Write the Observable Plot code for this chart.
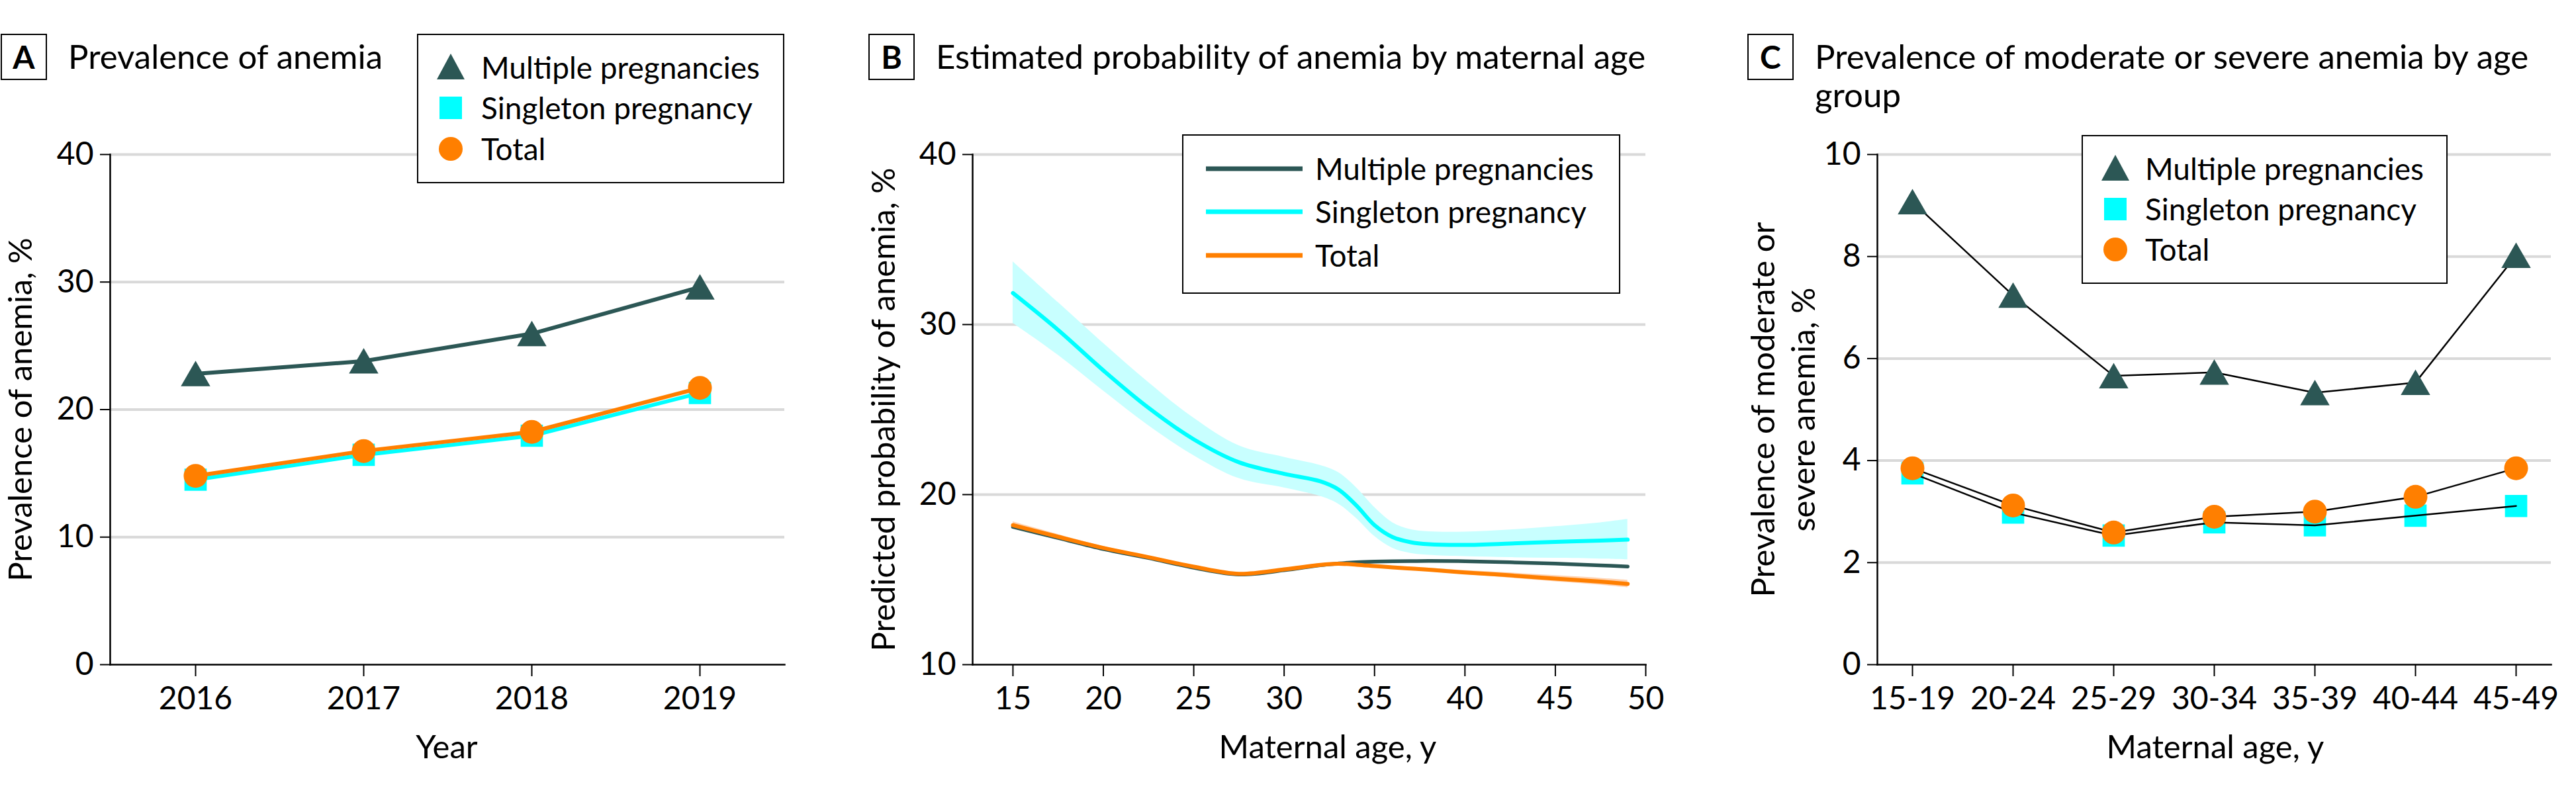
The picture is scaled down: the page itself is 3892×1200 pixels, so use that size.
<!DOCTYPE html>
<html>
<head>
<meta charset="utf-8">
<script src="https://cdn.jsdelivr.net/npm/d3@7"></script>
<script src="https://cdn.jsdelivr.net/npm/@observablehq/plot@0.6"></script>
<style>
  html, body { margin: 0; padding: 0; background: #fff; }
  #page { position: relative; width: 3892px; height: 1200px; overflow: hidden; font-family: Lato, "Noto Sans", sans-serif; color: #000; }
  #page svg.plotsvg { position: absolute; top: 0; }
</style>
</head>
<body>
<div id="page"></div>
<script>
// ---------- Data ----------
// Panel A: prevalence of anemia by year
const years = [2016, 2017, 2018, 2019];
const prevMultiple  = [22.8, 23.8, 25.95, 29.6];
const prevSingleton = [14.5, 16.45, 17.95, 21.3];
const prevTotal     = [14.8, 16.75, 18.25, 21.7];

// Panel B: estimated probability of anemia by maternal age
const ages          = [15, 17.5, 20, 22.5, 25, 27.5, 30, 32, 33, 34, 35, 36, 37, 38, 40, 42.5, 45, 47.5, 49];
const probSingleton = [31.85, 29.68, 27.3, 25.1, 23.25, 21.9, 21.22, 20.78, 20.3, 19.35, 18.2, 17.5, 17.2, 17.08, 17.04, 17.12, 17.22, 17.3, 17.35];
const probSingLo    = [30.08, 28.2, 26.1, 24.06, 22.3, 20.95, 20.4, 19.9, 19.45, 18.6, 17.55, 16.85, 16.55, 16.44, 16.36, 16.3, 16.26, 16.22, 16.18];
const probSingHi    = [33.7, 31.3, 28.9, 26.6, 24.5, 22.88, 22.2, 21.72, 21.3, 20.4, 19.25, 18.35, 17.95, 17.82, 17.8, 17.93, 18.12, 18.35, 18.55];
const probMultiple  = [18.1, 17.45, 16.8, 16.27, 15.7, 15.3, 15.55, 15.85, 15.95, 16.02, 16.06, 16.08, 16.09, 16.1, 16.08, 16.02, 15.94, 15.84, 15.77];
const probTotal     = [18.2, 17.52, 16.86, 16.32, 15.76, 15.34, 15.6, 15.87, 15.93, 15.88, 15.8, 15.72, 15.65, 15.58, 15.42, 15.25, 15.06, 14.88, 14.75];
const probTotalLo   = [18.0, 17.38, 16.76, 16.24, 15.69, 15.27, 15.53, 15.8, 15.86, 15.81, 15.72, 15.64, 15.56, 15.48, 15.3, 15.1, 14.88, 14.68, 14.53];
const probTotalHi   = [18.4, 17.66, 16.96, 16.4, 15.83, 15.41, 15.67, 15.94, 16.0, 15.95, 15.88, 15.8, 15.74, 15.68, 15.54, 15.4, 15.24, 15.08, 14.97];

// Panel C: prevalence of moderate or severe anemia by age group
const ageGroups       = ["15-19", "20-24", "25-29", "30-34", "35-39", "40-44", "45-49"];
const modSevMultiple  = [9.07, 7.24, 5.66, 5.73, 5.33, 5.53, 8.02];
const modSevSingleton = [3.75, 2.98, 2.53, 2.79, 2.73, 2.92, 3.11];
const modSevTotal     = [3.85, 3.12, 2.59, 2.9, 3.0, 3.29, 3.85];

// Labels
const seriesNames = ["Multiple pregnancies", "Singleton pregnancy", "Total"];
const yTicksA = [0, 10, 20, 30, 40];
const yTicksB = [10, 20, 30, 40];
const xTicksB = [15, 20, 25, 30, 35, 40, 45, 50];
const yTicksC = [0, 2, 4, 6, 8, 10];

// ---------- Style ----------
const DARK = "#2c5755", CYAN = "#00ffff", ORANGE = "#ff7f00", BAND = "#c8ffff", TBAND = "#ffd2b0", GRID = "#d9d9d9";
const FONT = "Lato, 'Noto Sans', sans-serif";
const baseStyle = { fontFamily: FONT, fontSize: "48px", background: "transparent", overflow: "visible", color: "#000" };
const fmt = d => String(d);

const page = document.getElementById("page");
function el(tag, css, text) {
  const e = document.createElement(tag);
  e.style.cssText = css;
  if (text != null) e.textContent = text;
  page.appendChild(e);
  return e;
}
function place(svg, left) {
  svg.classList.add("plotsvg");
  svg.style.position = "absolute";
  svg.style.left = left + "px";
  svg.style.top = "0px";
  page.appendChild(svg);
}

// ---------- Panel A ----------
const tableA = years.map((year, i) => ({ year, multiple: prevMultiple[i], singleton: prevSingleton[i], total: prevTotal[i] }));
const plotA = Plot.plot({
  width: 1290, height: 1200,
  marginLeft: 166, marginRight: 105, marginTop: 233, marginBottom: 196,
  style: baseStyle,
  x: { type: "point", domain: years, padding: 0.5 },
  y: { domain: [0, 40] },
  marks: [
    Plot.gridY(yTicksA.slice(1), { stroke: GRID, strokeOpacity: 1, strokeWidth: 4 }),
    Plot.frame({ anchor: "left", strokeWidth: 2.5 }),
    Plot.frame({ anchor: "bottom", strokeWidth: 2.5 }),
    Plot.axisY(yTicksA, { tickSize: 15, tickPadding: 10, strokeWidth: 2, tickFormat: fmt, label: null }),
    Plot.axisX(years, { tickSize: 18, tickPadding: 15, strokeWidth: 2, tickFormat: fmt, label: null }),
    Plot.line(tableA, { x: "year", y: "singleton", stroke: CYAN, strokeWidth: 6 }),
    Plot.dot(tableA, { x: "year", y: "singleton", symbol: "square", fill: CYAN, r: 19 }),
    Plot.line(tableA, { x: "year", y: "total", stroke: ORANGE, strokeWidth: 6 }),
    Plot.dot(tableA, { x: "year", y: "total", symbol: "circle", fill: ORANGE, r: 18 }),
    Plot.line(tableA, { x: "year", y: "multiple", stroke: DARK, strokeWidth: 6 }),
    Plot.dot(tableA, { x: "year", y: "multiple", symbol: "triangle", fill: DARK, r: 16.5, dy: 6 })
  ]
});
place(plotA, 0);

// ---------- Panel B ----------
const tableB = ages.map((age, i) => ({
  age, singleton: probSingleton[i], sLo: probSingLo[i], sHi: probSingHi[i],
  multiple: probMultiple[i], total: probTotal[i], tLo: probTotalLo[i], tHi: probTotalHi[i]
}));
const plotB = Plot.plot({
  width: 1300, height: 1200,
  marginLeft: 179, marginRight: 104, marginTop: 233, marginBottom: 196,
  style: baseStyle,
  x: { domain: [12.77, 50] },
  y: { domain: [10, 40] },
  marks: [
    Plot.gridY(yTicksB.slice(1), { stroke: GRID, strokeOpacity: 1, strokeWidth: 4 }),
    Plot.frame({ anchor: "left", strokeWidth: 2.5 }),
    Plot.frame({ anchor: "bottom", strokeWidth: 2.5 }),
    Plot.axisY(yTicksB, { tickSize: 15, tickPadding: 10, strokeWidth: 2, tickFormat: fmt, label: null }),
    Plot.axisX(xTicksB, { tickSize: 18, tickPadding: 15, strokeWidth: 2, tickFormat: fmt, label: null }),
    Plot.areaY(tableB, { x: "age", y1: "sLo", y2: "sHi", fill: BAND, curve: "catmull-rom" }),
    Plot.areaY(tableB, { x: "age", y1: "tLo", y2: "tHi", fill: TBAND, curve: "catmull-rom" }),
    Plot.line(tableB, { x: "age", y: "multiple", stroke: DARK, strokeWidth: 5.5, curve: "catmull-rom" }),
    Plot.line(tableB, { x: "age", y: "singleton", stroke: CYAN, strokeWidth: 6, curve: "catmull-rom" }),
    Plot.line(tableB, { x: "age", y: "total", stroke: ORANGE, strokeWidth: 6, curve: "catmull-rom" })
  ]
});
place(plotB, 1290);

// ---------- Panel C ----------
const tableC = ageGroups.map((g, i) => ({ g, multiple: modSevMultiple[i], singleton: modSevSingleton[i], total: modSevTotal[i] }));
const plotC = Plot.plot({
  width: 1302, height: 1200,
  marginLeft: 246, marginRight: 38, marginTop: 233, marginBottom: 196,
  style: baseStyle,
  x: { type: "point", domain: ageGroups, padding: 0.34 },
  y: { domain: [0, 10] },
  marks: [
    Plot.gridY(yTicksC.slice(1), { stroke: GRID, strokeOpacity: 1, strokeWidth: 4 }),
    Plot.frame({ anchor: "left", strokeWidth: 2.5 }),
    Plot.frame({ anchor: "bottom", strokeWidth: 2.5 }),
    Plot.axisY(yTicksC, { tickSize: 15, tickPadding: 10, strokeWidth: 2, tickFormat: fmt, label: null }),
    Plot.axisX(ageGroups, { tickSize: 18, tickPadding: 15, strokeWidth: 2, label: null }),
    Plot.dot(tableC, { x: "g", y: "singleton", symbol: "square", fill: CYAN, r: 19 }),
    Plot.line(tableC, { x: "g", y: "singleton", stroke: "#000", strokeWidth: 2.5 }),
    Plot.line(tableC, { x: "g", y: "total", stroke: "#000", strokeWidth: 2.5 }),
    Plot.line(tableC, { x: "g", y: "multiple", stroke: "#000", strokeWidth: 2.5 }),
    Plot.dot(tableC, { x: "g", y: "total", symbol: "circle", fill: ORANGE, r: 18 }),
    Plot.dot(tableC, { x: "g", y: "multiple", symbol: "triangle", fill: DARK, r: 16.5, dy: 6 })
  ]
});
place(plotC, 2590);

// ---------- Titles ----------
const tagCss = "position:absolute;top:51px;width:66px;height:66px;border:2px solid #000;font-weight:bold;font-size:48px;line-height:66px;text-align:center;background:#fff;font-family:" + FONT + ";";
const titleCss = "position:absolute;font-size:51px;line-height:58px;white-space:nowrap;font-family:" + FONT + ";";
el("div", tagCss + "left:1px;", "A");
el("div", titleCss + "left:103px;top:56px;", "Prevalence of anemia");
el("div", tagCss + "left:1312px;", "B");
el("div", titleCss + "left:1414px;top:56px;", "Estimated probability of anemia by maternal age");
el("div", tagCss + "left:2640px;", "C");
const tC = el("div", titleCss + "left:2742px;top:56px;");
tC.innerHTML = "Prevalence of moderate or severe anemia by age<br>group";

// ---------- Axis labels ----------
const xlabCss = "position:absolute;top:1097px;font-size:49px;line-height:60px;white-space:nowrap;transform:translateX(-50%);font-family:" + FONT + ";";
el("div", xlabCss + "left:675px;", "Year");
el("div", xlabCss + "left:2006px;", "Maternal age, y");
el("div", xlabCss + "left:3347px;", "Maternal age, y");
const ylabCss = "position:absolute;top:619px;font-size:49px;white-space:nowrap;text-align:center;transform:translate(-50%,-50%) rotate(-90deg);font-family:" + FONT + ";";
el("div", ylabCss + "left:29px;line-height:50px;", "Prevalence of anemia, %");
el("div", ylabCss + "left:1333px;line-height:50px;", "Predicted probability of anemia, %");
const yC = el("div", ylabCss + "left:2693px;line-height:61px;");
yC.innerHTML = "Prevalence of moderate or<br>severe anemia, %";

// ---------- Legends ----------
const symbols = {
  triangle: (c) => `<svg width="46" height="46" viewBox="-23 -23 46 46" style="position:absolute;left:-23px;top:-23px;overflow:visible"><polygon points="0,-21 21,18 -21,18" fill="${c}"/></svg>`,
  square: (c) => `<svg width="46" height="46" viewBox="-23 -23 46 46" style="position:absolute;left:-23px;top:-23px;overflow:visible"><rect x="-17" y="-17" width="34" height="34" fill="${c}"/></svg>`,
  circle: (c) => `<svg width="46" height="46" viewBox="-23 -23 46 46" style="position:absolute;left:-23px;top:-23px;overflow:visible"><circle r="18" fill="${c}"/></svg>`,
  line: (c) => `<svg width="146" height="20" viewBox="0 -10 146 20" style="position:absolute;left:-73px;top:-10px;overflow:visible"><line x1="0" x2="146" y1="0" y2="0" stroke="${c}" stroke-width="7"/></svg>`
};
function legend(left, top, w, h, rows, symX, textX, kinds) {
  const box = el("div", `position:absolute;left:${left}px;top:${top}px;width:${w}px;height:${h}px;border:2.5px solid #000;box-sizing:border-box;background:#fff;`);
  const colors = [DARK, CYAN, ORANGE];
  seriesNames.forEach((name, i) => {
    const s = document.createElement("div");
    s.style.cssText = `position:absolute;left:${symX}px;top:${rows[i]}px;width:0;height:0;`;
    s.innerHTML = symbols[kinds[i]](colors[i]);
    box.appendChild(s);
    const t = document.createElement("div");
    t.style.cssText = `position:absolute;left:${textX}px;top:${rows[i] - 30}px;height:60px;line-height:60px;font-size:46px;white-space:nowrap;font-family:${FONT};`;
    t.textContent = name;
    box.appendChild(t);
  });
}
legend(630, 51, 555, 226, [49, 110, 172], 49, 95, ["triangle", "square", "circle"]);
legend(1786, 203, 662, 241, [50, 115, 181], 107, 199, ["line", "line", "line"]);
legend(3145, 204, 553, 225, [49, 110, 171], 49, 94, ["triangle", "square", "circle"]);
</script>
</body>
</html>
